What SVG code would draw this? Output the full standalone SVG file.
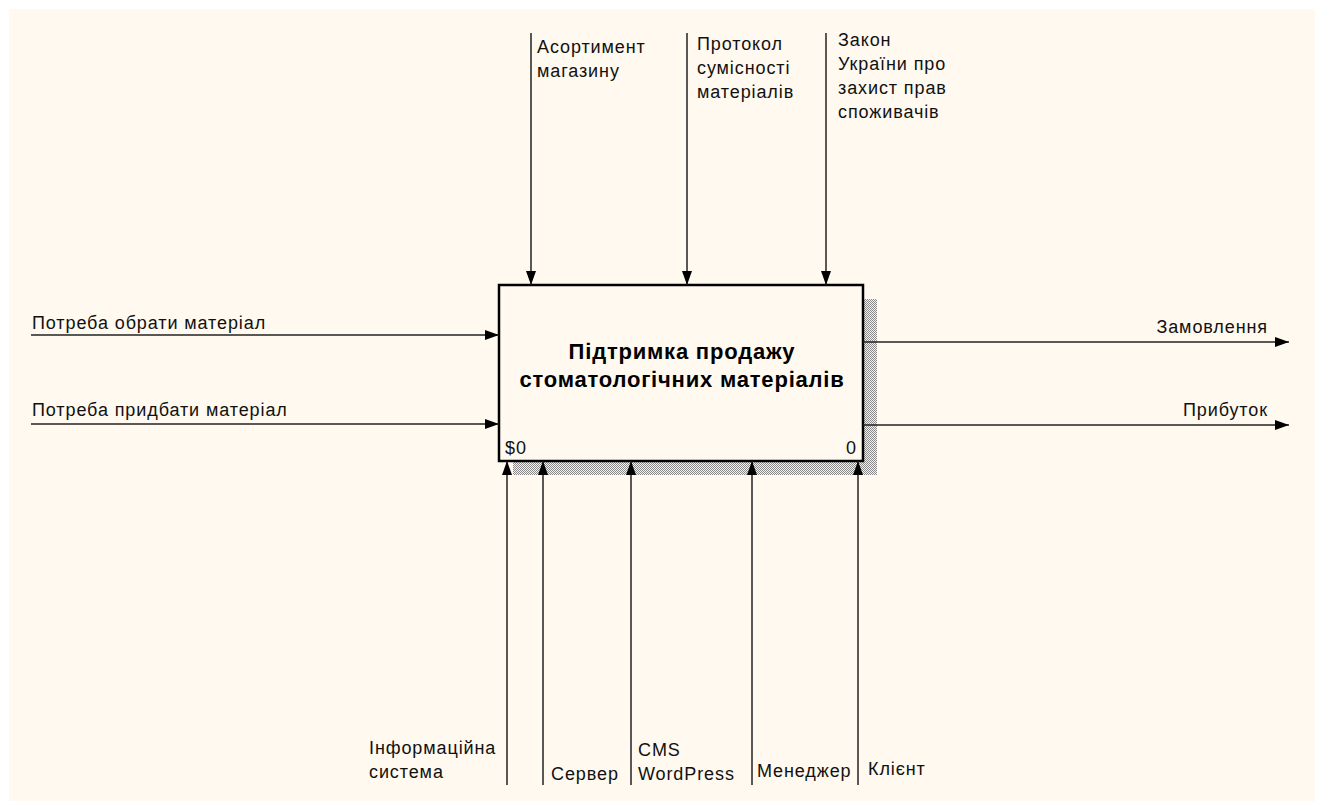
<svg xmlns="http://www.w3.org/2000/svg" width="1317" height="803" viewBox="0 0 1317 803">
<style>
.lbl{font-family:"Liberation Sans",Arial,sans-serif;font-size:18px;letter-spacing:0.9px;fill:#111}
.title{font-family:"Liberation Sans",Arial,sans-serif;font-size:22px;letter-spacing:0.8px;font-weight:bold;fill:#000}
.ln{stroke:#222;stroke-width:1.5;fill:none}
</style>
<defs>
<pattern id="hatch" width="2" height="2" patternUnits="userSpaceOnUse">
<rect width="2" height="2" fill="#f2f2f2"/>
<rect width="1" height="1" fill="#8a8a8a"/>
<rect x="1" y="1" width="1" height="1" fill="#8a8a8a"/>
</pattern>
<marker id="arr" viewBox="0 0 14 10" refX="14" refY="5" markerWidth="14" markerHeight="10" markerUnits="userSpaceOnUse" orient="auto">
<path d="M0,0 L14,5 L0,10 Z" fill="#000"/>
</marker>
</defs>
<rect x="0" y="0" width="1317" height="803" fill="#fff"/>
<rect x="9" y="9" width="1306" height="792" fill="#fff9ef"/>

<g id="node-A0">
<rect x="863" y="299" width="14" height="176" fill="url(#hatch)"/>
<rect x="513" y="461" width="364" height="14" fill="url(#hatch)"/>
<rect x="499" y="285" width="364" height="176" fill="#fff9ef" stroke="#000" stroke-width="2.5"/>
<text class="title" x="682" y="359" text-anchor="middle">Підтримка продажу</text>
<text class="title" x="682" y="387" text-anchor="middle">стоматологічних матеріалів</text>
<text class="lbl" x="505" y="454" fill="#2a1f45">$0</text>
<text class="lbl" x="857" y="454" text-anchor="end">0</text>
</g>

<g id="connectors">
<line class="ln" x1="531" y1="33" x2="531" y2="285" marker-end="url(#arr)"/>
<line class="ln" x1="687" y1="33" x2="687" y2="285" marker-end="url(#arr)"/>
<line class="ln" x1="826" y1="33" x2="826" y2="285" marker-end="url(#arr)"/>
<line class="ln" x1="31" y1="335" x2="499" y2="335" marker-end="url(#arr)"/>
<line class="ln" x1="31" y1="424" x2="499" y2="424" marker-end="url(#arr)"/>
<line class="ln" x1="863" y1="342" x2="1289" y2="342" marker-end="url(#arr)"/>
<line class="ln" x1="863" y1="425" x2="1289" y2="425" marker-end="url(#arr)"/>
<line class="ln" x1="507" y1="785" x2="507" y2="461" marker-end="url(#arr)"/>
<line class="ln" x1="543" y1="785" x2="543" y2="461" marker-end="url(#arr)"/>
<line class="ln" x1="631" y1="785" x2="631" y2="461" marker-end="url(#arr)"/>
<line class="ln" x1="752" y1="785" x2="752" y2="461" marker-end="url(#arr)"/>
<line class="ln" x1="858" y1="785" x2="858" y2="461" marker-end="url(#arr)"/>
</g>

<g id="labels">
<text class="lbl" x="537" y="53">Асортимент</text>
<text class="lbl" x="537" y="77">магазину</text>
<text class="lbl" x="697" y="50">Протокол</text>
<text class="lbl" x="697" y="74">сумісності</text>
<text class="lbl" x="697" y="98">матеріалів</text>
<text class="lbl" x="838" y="46">Закон</text>
<text class="lbl" x="838" y="70">України про</text>
<text class="lbl" x="838" y="94">захист прав</text>
<text class="lbl" x="838" y="118">споживачів</text>
<text class="lbl" x="32" y="329">Потреба обрати матеріал</text>
<text class="lbl" x="32" y="416">Потреба придбати матеріал</text>
<text class="lbl" x="1268" y="333" text-anchor="end">Замовлення</text>
<text class="lbl" x="1268" y="416" text-anchor="end">Прибуток</text>
<text class="lbl" x="369" y="754">Інформаційна</text>
<text class="lbl" x="369" y="778">система</text>
<text class="lbl" x="551" y="780">Сервер</text>
<text class="lbl" x="638" y="756">CMS</text>
<text class="lbl" x="638" y="780">WordPress</text>
<text class="lbl" x="757" y="777">Менеджер</text>
<text class="lbl" x="868" y="775">Клієнт</text>
</g>
</svg>
